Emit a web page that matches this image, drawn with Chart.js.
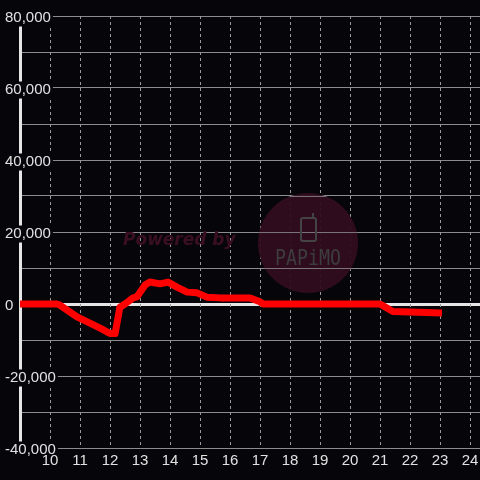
<!DOCTYPE html>
<html>
<head>
<meta charset="utf-8">
<script src="https://cdn.jsdelivr.net/npm/chart.js@4"></script>
<style>
  html, body { margin: 0; padding: 0; background: #060509; }
  canvas { display: block; background: #060509; }
</style>
</head>
<body>
<canvas id="slump_chart" width="480" height="480"></canvas>
<script>
// hour of day / difference in coins
const hours = [9, 10.23, 10.33, 10.9, 11.33, 11.67, 12.0, 12.17, 12.33, 12.5, 12.77, 12.9, 13.17, 13.33, 13.67, 13.93,
    14.23, 14.57, 14.9, 15.23, 15.67, 16.67, 17.0, 17.1, 21.0, 21.43, 22.95];
const diffs = [0, 0, -300, -3600, -5300, -6700, -8200, -8200, -900, 0, 1700, 2000, 5300, 6100, 5600, 6100,
    4700, 3300, 3100, 1900, 1700, 1700, 600, 0, 0, -2100, -2500];

const xRange = [9, 24.333];
const yRange = [-40000, 80000];

const labelColor = '#e2e2e2';
const bgColor = '#060509';

const watermark = {
    id: 'watermark',
    beforeDatasetsDraw(chart) {
        const ctx = chart.ctx;
        const yScale = chart.scales.y;
        ctx.save();
        // Powered by
        ctx.font = 'italic bold 17px "DejaVu Sans"';
        ctx.fillStyle = '#3a0f22';
        ctx.textBaseline = 'middle';
        ctx.textAlign = 'left';
        ctx.fillText('Powered by', 123, 241, 116);
        // circle
        ctx.beginPath();
        ctx.arc(308, 243, 50, 0, Math.PI * 2);
        ctx.fillStyle = 'rgba(48, 13, 31, 0.95)';
        ctx.fill();
        ctx.clip();
        ctx.strokeStyle = 'rgba(140, 140, 140, 0.8)';
        ctx.lineWidth = 1;
        yScale.ticks.forEach(t => {
            const py = Math.round(yScale.getPixelForValue(t.value)) + 0.5;
            ctx.beginPath();
            ctx.moveTo(250, py);
            ctx.lineTo(370, py);
            ctx.stroke();
        });
        // phone icon
        ctx.strokeStyle = '#434343';
        ctx.lineWidth = 2;
        ctx.beginPath();
        ctx.roundRect(301, 218, 15, 23, 2);
        ctx.stroke();
        ctx.beginPath();
        ctx.moveTo(313, 218);
        ctx.lineTo(313, 213);
        ctx.stroke();
        ctx.font = '22px "DejaVu Sans Mono"';
        ctx.fillStyle = '#3d3d3d';
        ctx.textAlign = 'left';
        ctx.fillText('PAPiMO', 275, 259, 66);
        ctx.restore();
    }
};

new Chart(document.getElementById('slump_chart'), {
    type: 'line',
    data: {
        datasets: [{
            data: hours.map((h, i) => ({ x: h, y: diffs[i] })),
            borderColor: '#ff0000',
            borderWidth: 7,
            borderJoinStyle: 'round',
            borderCapStyle: 'square',
            pointRadius: 0,
            tension: 0,
            fill: false
        }]
    },
    options: {
        responsive: false,
        animation: false,
        layout: { padding: { top: 16, left: 0, right: 0, bottom: 0 } },
        plugins: {
            legend: { display: false },
            tooltip: { enabled: false }
        },
        scales: {
            y: {
                min: yRange[0],
                max: yRange[1],
                border: { display: true, color: '#e6e6e6', width: 3 },
                grid: {
                    drawTicks: false,
                    color: c => c.tick.value === 0 ? '#e6e6e6' : '#8c8c8c',
                    lineWidth: c => c.tick.value === 0 ? 3 : 1
                },
                ticks: {
                    stepSize: 10000,
                    mirror: true,
                    crossAlign: 'near',
                    padding: -15,
                    labelOffset: 2,
                    color: labelColor,
                    font: { family: '"Liberation Sans", Arial', size: 15, lineHeight: 1 },
                    showLabelBackdrop: c => c.tick.value % 20000 === 0,
                    backdropColor: bgColor,
                    backdropPadding: { left: 2, right: 2, top: 1, bottom: 1 },
                    callback: v => v % 20000 === 0 ? v.toLocaleString('en-US') : ''
                },
                afterFit: scale => {
                    scale.width = 20;
                    scale.paddingTop = 0;
                    scale.paddingBottom = 0;
                }
            },
            x: {
                type: 'linear',
                min: xRange[0],
                max: xRange[1],
                grid: {
                    color: c => c.tick.value < 10 ? 'rgba(0,0,0,0)' : '#9a9a9a',
                    lineWidth: 1,
                    drawTicks: false
                },
                border: { display: false, dash: [3, 3] },
                ticks: {
                    stepSize: 1,
                    includeBounds: false,
                    color: labelColor,
                    padding: 5,
                    font: { family: '"Liberation Sans", Arial', size: 15, lineHeight: 1 },
                    maxRotation: 0,
                    callback: v => v < 10 ? '' : String(v)
                },
                afterFit: scale => {
                    scale.height = 32;
                    scale.paddingLeft = 0;
                    scale.paddingRight = 0;
                }
            }
        }
    },
    plugins: [watermark]
});
</script>
</body>
</html>
